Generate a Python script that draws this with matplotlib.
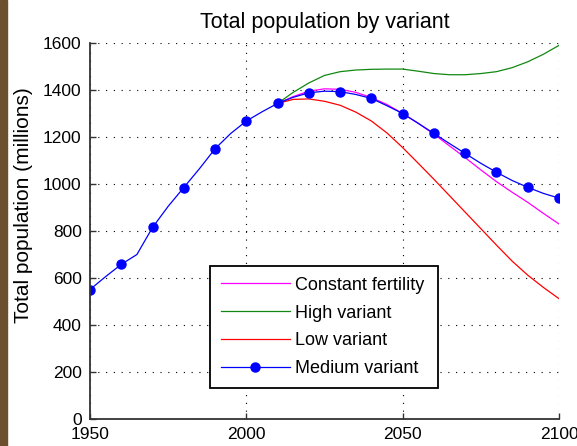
import numpy as np
import matplotlib
matplotlib.use("Agg")
import matplotlib.pyplot as plt
from matplotlib.patches import Rectangle

plt.rcParams['font.family'] = ['Liberation Sans', 'DejaVu Sans']

# Population (millions), 5-year steps
anos_hist = [1950, 1955, 1960, 1965, 1970, 1975, 1980, 1985, 1990, 1995, 2000, 2005]
pop_hist = [551, 606, 658, 700, 815, 905, 985, 1065, 1150, 1215, 1268, 1307]

anos_proj = [2010, 2015, 2020, 2025, 2030, 2035, 2040, 2045, 2050, 2055,
             2060, 2065, 2070, 2075, 2080, 2085, 2090, 2095, 2100]
constante = [1343, 1372, 1395, 1405, 1403, 1390, 1368, 1338, 1300, 1258,
             1212, 1162, 1112, 1060, 1010, 965, 922, 875, 830]
alta = [1343, 1390, 1430, 1462, 1478, 1485, 1488, 1489, 1489, 1480,
        1470, 1465, 1465, 1470, 1478, 1495, 1520, 1552, 1590]
baixa = [1343, 1360, 1362, 1352, 1335, 1306, 1268, 1217, 1155, 1088,
         1020, 950, 880, 810, 740, 672, 612, 560, 512]
media = [1343, 1369, 1388, 1395, 1393, 1381, 1364, 1333, 1300, 1258,
         1215, 1172, 1130, 1088, 1050, 1015, 986, 960, 940]

anos_med = anos_hist + anos_proj
pop_med = pop_hist + media

fig = plt.figure(figsize=(5.77, 4.46), dpi=100)
fig.patches.append(Rectangle((0, 0), 7/577, 1, transform=fig.transFigure,
                             color='#6b4f2f', zorder=-1))
ax = fig.add_axes([90/577, 27/446, 469/577, 376/446])

ax.plot(anos_proj, constante, color='#ff00ff', lw=0.9, label='Constant fertility')
ax.plot(anos_proj, alta, color='#118811', lw=0.9, label='High variant')
ax.plot(anos_proj, baixa, color='#ff0000', lw=0.9, label='Low variant')
ax.plot(anos_med, pop_med, color='#0000ff', lw=0.9, marker='o', ms=6.5,
        markevery=2, label='Medium variant')

ax.set_xlim(1950, 2100)
ax.set_ylim(0, 1600)
ax.set_xticks([1950, 2000, 2050, 2100])
ax.set_yticks(np.arange(0, 1601, 200))
ax.tick_params(direction='in', length=4, width=1, labelsize=12.5, pad=6, color='#333333')
ax.grid(True, color='black', linestyle=(0, (1, 6)), linewidth=0.8)
ax.spines['top'].set_visible(False)
ax.spines['right'].set_visible(False)
for s in ['left', 'bottom']:
    ax.spines[s].set_linewidth(1.3)
    ax.spines[s].set_color('#333333')

ax.set_title('Total population by variant', fontsize=15.5, pad=11)
ax.set_ylabel('Total population (millions)', fontsize=15)
ax.yaxis.set_label_coords(-0.122, 0.569)

leg = ax.legend(loc='upper left', bbox_to_anchor=(0.256, 0.407, 0.486, 0), mode='expand',
                fontsize=13, handlelength=3.8, handletextpad=0.3, labelspacing=0.6,
                borderpad=0.6, fancybox=False, framealpha=1, edgecolor='black',
                borderaxespad=0)
leg.get_frame().set_linewidth(1.3)

fig.savefig('out.png', dpi=100)
